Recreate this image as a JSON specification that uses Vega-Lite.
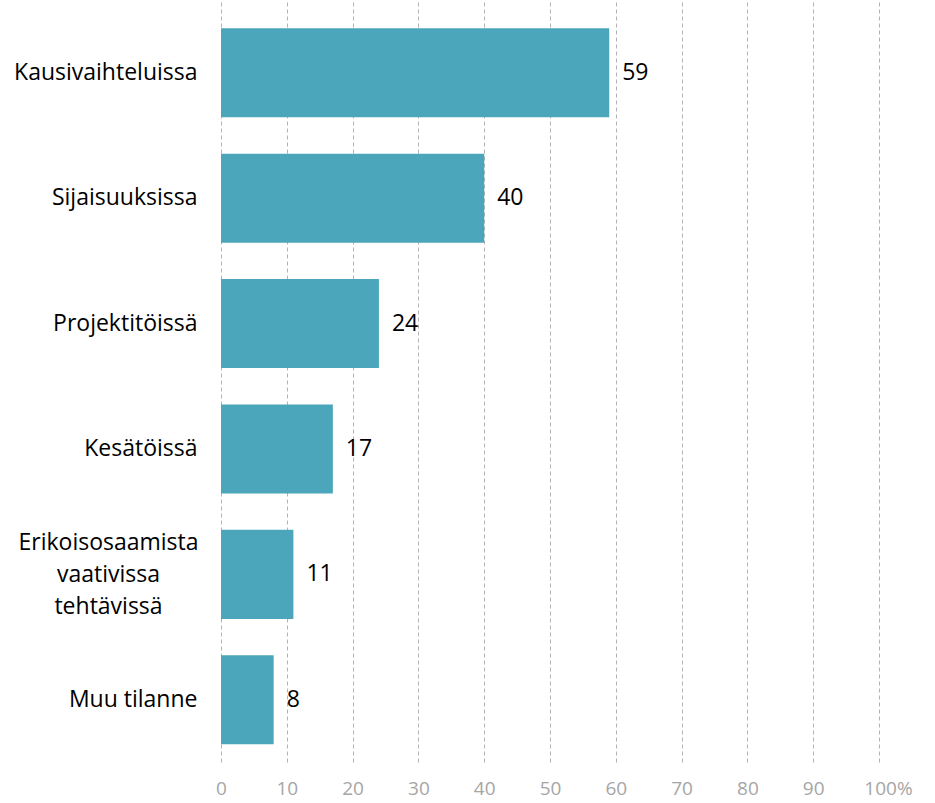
{
  "$schema": "https://vega.github.io/schema/vega-lite/v6.json",
  "width": 658,
  "height": 762,
  "autosize": {"type": "none"},
  "padding": {"left": 221, "top": 0, "right": 56, "bottom": 41},
  "background": "white",
  "config": {"view": {"stroke": null}, "font": "Open Sans"},
  "data": {
    "values": [
      {"tilanne": "Kausivaihteluissa", "osuus": 59},
      {"tilanne": "Sijaisuuksissa", "osuus": 40},
      {"tilanne": "Projektitöissä", "osuus": 24},
      {"tilanne": "Kesätöissä", "osuus": 17},
      {"tilanne": "Erikoisosaamista vaativissa tehtävissä", "osuus": 11},
      {"tilanne": "Muu tilanne", "osuus": 8}
    ]
  },
  "encoding": {
    "y": {
      "field": "tilanne",
      "type": "nominal",
      "sort": null,
      "title": null,
      "scale": {"paddingInner": 0.29, "paddingOuter": 0.183, "align": 0.615},
      "axis": {
        "domain": false,
        "ticks": false,
        "labelFontSize": 23,
        "labelColor": "#000000",
        "labelLineHeight": 32,
        "labelLimit": 300,
        "labelExpr": "datum.value == 'Erikoisosaamista vaativissa tehtävissä' ? ['Erikoisosaamista', 'vaativissa', 'tehtävissä'] : datum.value",
        "labelAlign": {"condition": {"test": "datum.value == 'Erikoisosaamista vaativissa tehtävissä'", "value": "center"}, "value": "right"},
        "labelPadding": {"condition": {"test": "datum.value == 'Erikoisosaamista vaativissa tehtävissä'", "value": 113}, "value": 24},
        "labelOffset": {"condition": {"test": "datum.value == 'Erikoisosaamista vaativissa tehtävissä'", "value": -31}, "value": 0}
      }
    },
    "x": {
      "field": "osuus",
      "type": "quantitative",
      "title": null,
      "scale": {"domain": [0, 100], "nice": false},
      "axis": {
        "values": [0, 10, 20, 30, 40, 50, 60, 70, 80, 90, 100],
        "domain": false,
        "ticks": false,
        "grid": true,
        "gridColor": "#b3b3b3",
        "gridDash": [4, 3],
        "gridWidth": 1,
        "labelFontSize": 19,
        "labelColor": "#a6a6a6",
        "labelPadding": 17,
        "labelFlush": false,
        "labelExpr": "datum.value == 100 ? '100%' : datum.label",
        "labelOffset": {"condition": {"test": "datum.value == 100", "value": 9}, "value": 0}
      }
    }
  },
  "layer": [
    {"mark": {"type": "bar", "color": "#4ba6bb"}},
    {
      "mark": {"type": "text", "align": "left", "baseline": "middle", "dx": 13, "fontSize": 23, "color": "#000000"},
      "encoding": {"text": {"field": "osuus", "type": "quantitative"}}
    }
  ]
}
